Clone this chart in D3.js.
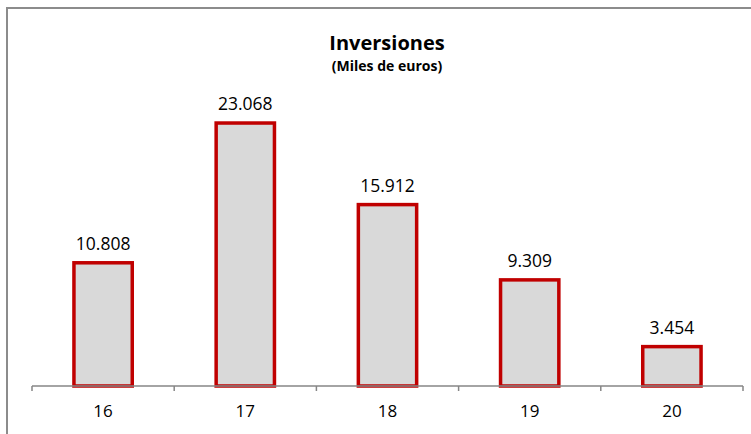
<!DOCTYPE html>
<html><head><meta charset="utf-8">
<script src="https://cdn.jsdelivr.net/npm/d3@7/dist/d3.min.js"></script>
<style>body{margin:0;background:#fff;}svg{display:block;}</style>
</head><body>
<svg id="c" width="751" height="434"></svg>
<script>
const categories = ["16", "17", "18", "19", "20"];
const values = [10808, 23068, 15912, 9309, 3454];
const valueLabels = ["10.808", "23.068", "15.912", "9.309", "3.454"];
const title = "Inversiones";
const subtitle = "(Miles de euros)";

const svg = d3.select("#c");
const font = "'Open Sans', 'Noto Sans', sans-serif";

svg.append("rect").attr("x", 7).attr("y", 8).attr("width", 800).attr("height", 500)
  .attr("fill", "#fff").attr("stroke", "#8c8c8c").attr("stroke-width", 2);

const x = d3.scaleBand().domain(categories).range([32, 743]).paddingInner(0.59).paddingOuter(0.295);
const xTicks = d3.scaleBand().domain(categories).range([32, 743]);
const y = d3.scaleLinear().domain([0, 25000]).range([386, 101]);

svg.append("text").attr("x", 387).attr("y", 50).attr("text-anchor", "middle")
  .attr("font-family", font).attr("font-weight", "bold").attr("font-size", 20).attr("fill", "#000").text(title);
svg.append("text").attr("x", 387).attr("y", 71).attr("text-anchor", "middle")
  .attr("font-family", font).attr("font-weight", "bold").attr("font-size", 14).attr("fill", "#000").text(subtitle);

svg.selectAll("rect.bar").data(values).join("rect").attr("class", "bar")
  .attr("x", (d, i) => x(categories[i]))
  .attr("width", x.bandwidth())
  .attr("y", d => y(d))
  .attr("height", d => y(0) - y(d))
  .attr("fill", "#d9d9d9").attr("stroke", "#c00000").attr("stroke-width", 3.5);

svg.selectAll("text.val").data(values).join("text").attr("class", "val")
  .attr("x", (d, i) => x(categories[i]) + x.bandwidth() / 2)
  .attr("y", d => y(d) - 13)
  .attr("text-anchor", "middle").attr("font-family", font).attr("font-size", 17.5).attr("fill", "#000")
  .text((d, i) => valueLabels[i]);

const axis = svg.append("g");
axis.append("line").attr("x1", 32).attr("x2", 743).attr("y1", 386).attr("y2", 386)
  .attr("stroke", "#868686").attr("stroke-width", 1.5);
const tickPos = categories.map(c => xTicks(c)).concat([743]);
axis.selectAll("line.t").data(tickPos).join("line").attr("class", "t")
  .attr("x1", d => d).attr("x2", d => d).attr("y1", 386).attr("y2", 391)
  .attr("stroke", "#868686").attr("stroke-width", 1.5);
axis.selectAll("text").data(categories).join("text")
  .attr("x", d => xTicks(d) + xTicks.bandwidth() / 2).attr("y", 417)
  .attr("text-anchor", "middle").attr("font-family", font).attr("font-size", 17).attr("fill", "#000")
  .text(d => d);
</script>
</body></html>
